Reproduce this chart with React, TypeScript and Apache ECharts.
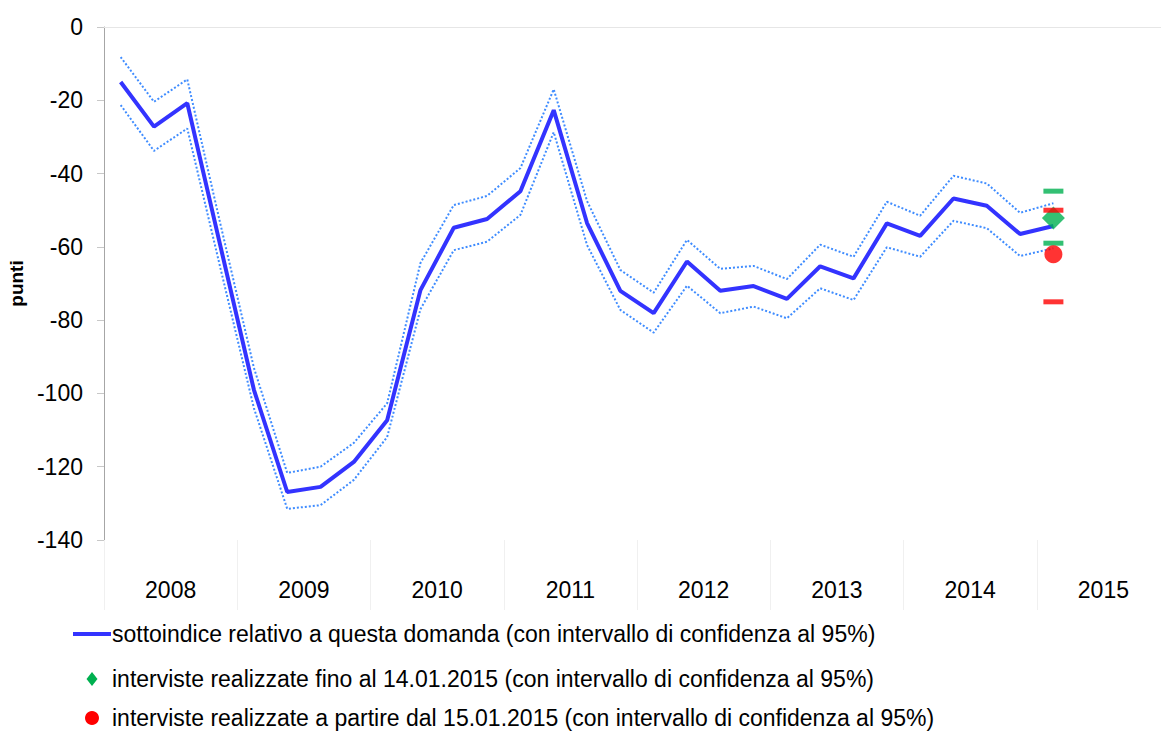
import React, { useEffect, useRef } from 'react';
import * as echarts from 'echarts';

const years = ['2008', '2009', '2010', '2011', '2012', '2013', '2014', '2015'];
const quarterNames = ['T1', 'T2', 'T3', 'T4'];
const quarters = years.flatMap((y) => quarterNames.map((q) => `${y} ${q}`));

const subIndex = [-15, -27.2, -20.8, -60, -99, -126.9, -125.5, -118.7, -107.3, -71.8, -54.8, -52.4, -44.8, -22.7, -53.5, -72, -78.1, -64, -72, -70.7, -74.2, -65.3, -68.6, -53.6, -57, -46.8, -48.8, -56.5, -54.3];
const upperCI = [-8.2, -20.4, -14.3, -54, -93, -121.7, -120, -113.5, -102.7, -64.4, -48.6, -46.1, -38.5, -17, -47.5, -66.3, -72.5, -58.1, -66, -65.2, -68.8, -59.4, -62.7, -47.7, -51.5, -40.6, -42.7, -50.7, -48.1];
const lowerCI = [-21.3, -33.8, -27.7, -66, -104, -131.5, -130.5, -123.6, -111.9, -77, -60.9, -58.6, -51.3, -28.7, -59.5, -77.2, -83.4, -70.6, -78.1, -76.3, -79.5, -71.3, -74.5, -60.1, -62.7, -52.9, -54.9, -62.5, -60.4];

const markerQuarter = '2015 T1';
const earlyValue = [-52.1];
const earlyBounds = [-44.8, -59];
const lateValue = [-62];
const lateBounds = [-50, -75];

const legendTexts = [
  'sottoindice relativo a questa domanda (con intervallo di confidenza al 95%)',
  'interviste realizzate fino al 14.01.2015 (con intervallo di confidenza al 95%)',
  'interviste realizzate a partire dal 15.01.2015 (con intervallo di confidenza al 95%)',
];

const FONT = '"Liberation Sans", Arial, sans-serif';
const BLUE = '#3333ff';
const LIGHT_BLUE = '#3f8cff';
const GREEN = '#00b050';
const RED = '#ff0000';

export default function App() {
  const ref = useRef<HTMLDivElement>(null);
  useEffect(() => {
    document.body.style.margin = '0';
    if (!ref.current) return;
    const chart = echarts.init(ref.current, undefined, { renderer: 'svg' });
    const ciSeries = (data: number[]) => ({
      type: 'line',
      xAxisIndex: 0,
      data,
      symbol: 'none',
      lineStyle: { color: LIGHT_BLUE, width: 2, type: [2, 2] },
      z: 2,
    });
    const legendText = (i: number, y: number) => ({
      type: 'text',
      x: 112,
      y,
      style: { text: legendTexts[i], fontSize: 23, fontFamily: FONT, fill: '#000', verticalAlign: 'middle' },
    });
    chart.setOption({
      animation: false,
      backgroundColor: '#ffffff',
      textStyle: { fontFamily: FONT },
      grid: { left: 104, top: 27, right: -9, bottom: 191, outerBoundsMode: 'none' },
      xAxis: [
        {
          type: 'category',
          data: quarters,
          position: 'top',
          boundaryGap: true,
          axisLine: { show: true, lineStyle: { color: '#e6e6e6', width: 1 } },
          axisTick: { show: false },
          axisLabel: { show: false },
          splitLine: { show: false },
        },
        {
          type: 'category',
          data: years,
          position: 'bottom',
          boundaryGap: true,
          axisLine: { show: false },
          axisTick: { show: true, interval: 0, length: 70, lineStyle: { color: '#f0f0f0', width: 1 } },
          axisLabel: { show: true, interval: 0, margin: 38, fontSize: 23, color: '#000', fontFamily: FONT },
          splitLine: { show: false },
        },
      ],
      yAxis: {
        type: 'value',
        min: -140,
        max: 0,
        interval: 20,
        name: 'punti',
        nameLocation: 'middle',
        nameRotate: 90,
        nameGap: 62,
        nameTextStyle: { fontSize: 19, fontWeight: 'bold', color: '#000', fontFamily: FONT },
        axisLine: { show: true, lineStyle: { color: '#a6a6a6', width: 1 } },
        axisTick: { show: true, length: 7, lineStyle: { color: '#c8c8c8' } },
        axisLabel: { fontSize: 23, color: '#000', margin: 21, fontFamily: FONT },
        splitLine: { show: false },
      },
      series: [
        ciSeries(upperCI),
        ciSeries(lowerCI),
        {
          type: 'line',
          xAxisIndex: 0,
          data: subIndex,
          symbol: 'none',
          lineStyle: { color: BLUE, width: 4 },
          z: 3,
        },
        {
          type: 'scatter',
          xAxisIndex: 0,
          data: earlyValue.map((v) => [markerQuarter, v]),
          symbol: 'diamond',
          symbolSize: [23, 23],
          itemStyle: { color: GREEN },
          z: 4,
        },
        {
          type: 'scatter',
          xAxisIndex: 0,
          data: earlyBounds.map((v) => [markerQuarter, v]),
          symbol: 'rect',
          symbolSize: [20, 5],
          itemStyle: { color: GREEN },
          z: 5,
        },
        {
          type: 'scatter',
          xAxisIndex: 0,
          data: lateValue.map((v) => [markerQuarter, v]),
          symbol: 'circle',
          symbolSize: 18,
          itemStyle: { color: RED },
          z: 6,
        },
        {
          type: 'scatter',
          xAxisIndex: 0,
          data: lateBounds.map((v) => [markerQuarter, v]),
          symbol: 'rect',
          symbolSize: [20, 5],
          itemStyle: { color: RED },
          z: 7,
        },
      ],
      graphic: [
        { type: 'line', shape: { x1: 73, y1: 634, x2: 111, y2: 634 }, style: { stroke: BLUE, lineWidth: 4 } },
        legendText(0, 634),
        { type: 'polygon', shape: { points: [[92, 672], [97.5, 679], [92, 686], [86.5, 679]] }, style: { fill: GREEN } },
        legendText(1, 679),
        { type: 'circle', shape: { cx: 92, cy: 718, r: 7 }, style: { fill: RED } },
        legendText(2, 718),
      ],
    });
    return () => chart.dispose();
  }, []);
  return <div ref={ref} style={{ width: 1161, height: 731 }} />;
}
